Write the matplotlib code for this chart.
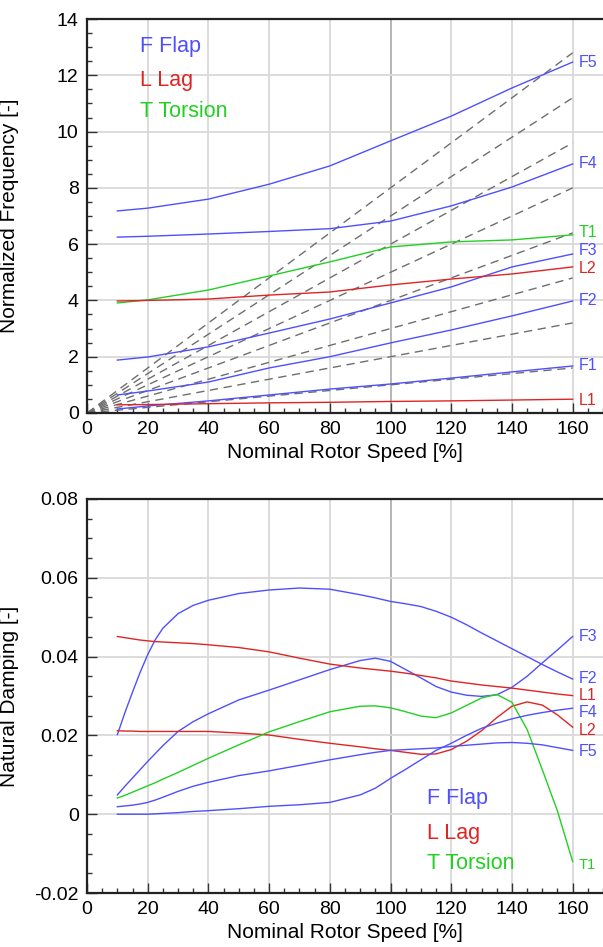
import matplotlib
matplotlib.use("Agg")
import matplotlib.pyplot as plt
from matplotlib.ticker import MultipleLocator, FixedLocator, FixedFormatter
import numpy as np

plt.rcParams['font.family'] = ['Liberation Sans', 'DejaVu Sans']
plt.rcParams['axes.unicode_minus'] = False

BLUE = '#4f4fff'
RED = '#e02424'
GREEN = '#22d022'

# --- frequency (top panel) ---
speedFreq = [10, 20, 40, 60, 80, 100, 120, 140, 160]
freqF5 = [7.18, 7.28, 7.60, 8.13, 8.78, 9.67, 10.55, 11.55, 12.47]
freqF4 = [6.25, 6.28, 6.36, 6.45, 6.55, 6.82, 7.36, 8.03, 8.85]
freqT1 = [3.91, 4.02, 4.37, 4.87, 5.37, 5.90, 6.08, 6.15, 6.33]
freqL2 = [3.98, 4.00, 4.05, 4.19, 4.30, 4.55, 4.76, 4.94, 5.19]
freqF3 = [1.88, 1.99, 2.35, 2.84, 3.34, 3.91, 4.48, 5.19, 5.65]
freqF2 = [0.64, 0.78, 1.10, 1.60, 2.00, 2.49, 2.95, 3.45, 3.98]
freqF1 = [0.14, 0.25, 0.43, 0.64, 0.85, 1.03, 1.24, 1.46, 1.67]
freqL1 = [0.29, 0.30, 0.33, 0.36, 0.38, 0.41, 0.43, 0.46, 0.49]

# rotor harmonics (per rev) drawn as dashed fan
harmonics = [1, 2, 3, 4, 5, 6, 7, 8]
harmonicSpeed = [0, 160]

# --- damping (bottom panel) ---
speedDamp = [10, 12.5, 15, 17.5, 20, 22.5, 25, 30, 35, 40, 50, 60, 70, 80,
             90, 95, 100, 105, 110, 115, 120, 125, 130, 135, 140, 145, 150,
             155, 160]
dampF2 = [0.0202, 0.0258, 0.0310, 0.0360, 0.0405, 0.0443, 0.0472, 0.0509,
          0.0530, 0.0543, 0.0560, 0.0569, 0.0574, 0.0571, 0.0557, 0.0549,
          0.0540, 0.0534, 0.0527, 0.0515, 0.0500, 0.0481, 0.0460, 0.0440,
          0.0420, 0.0400, 0.0380, 0.0361, 0.0343]
dampF3 = [0.0049, 0.0071, 0.0092, 0.0113, 0.0134, 0.0154, 0.0174, 0.0210,
          0.0235, 0.0255, 0.0290, 0.0315, 0.0341, 0.0367, 0.0390, 0.0396,
          0.0388, 0.0367, 0.0346, 0.0324, 0.0310, 0.0302, 0.0299, 0.0303,
          0.0322, 0.0350, 0.0384, 0.0417, 0.0451]
dampL1 = [0.0451, 0.0448, 0.0445, 0.0442, 0.0440, 0.0438, 0.0437, 0.0435,
          0.0433, 0.0430, 0.0423, 0.0412, 0.0396, 0.0381, 0.0371, 0.0367,
          0.0363, 0.0358, 0.0352, 0.0346, 0.0338, 0.0333, 0.0328, 0.0324,
          0.0320, 0.0315, 0.0310, 0.0305, 0.0301]
dampL2 = [0.0212, 0.0211, 0.0211, 0.0210, 0.0210, 0.0210, 0.0210, 0.0210,
          0.0210, 0.0210, 0.0206, 0.0201, 0.0190, 0.0180, 0.0171, 0.0166,
          0.0162, 0.0157, 0.0152, 0.0153, 0.0164, 0.0185, 0.0212, 0.0245,
          0.0274, 0.0285, 0.0277, 0.0252, 0.0221]
dampT1 = [0.0041, 0.0048, 0.0056, 0.0064, 0.0072, 0.0080, 0.0089, 0.0106,
          0.0124, 0.0142, 0.0176, 0.0209, 0.0235, 0.0260, 0.0274, 0.0275,
          0.0270, 0.0260, 0.0249, 0.0245, 0.0257, 0.0276, 0.0295, 0.0304,
          0.0284, 0.0215, 0.0113, 0.0008, -0.0120]
dampF4 = [0.0000, 0.0000, 0.0000, 0.0000, 0.0000, 0.0001, 0.0002, 0.0004,
          0.0007, 0.0009, 0.0014, 0.0020, 0.0024, 0.0030, 0.0049, 0.0066,
          0.0091, 0.0114, 0.0138, 0.0162, 0.0180, 0.0200, 0.0218, 0.0231,
          0.0242, 0.0251, 0.0258, 0.0264, 0.0269]
dampF5 = [0.0019, 0.0021, 0.0023, 0.0026, 0.0030, 0.0036, 0.0043, 0.0058,
          0.0071, 0.0081, 0.0098, 0.0110, 0.0124, 0.0138, 0.0151, 0.0157,
          0.0162, 0.0164, 0.0166, 0.0168, 0.0172, 0.0175, 0.0178, 0.0181,
          0.0182, 0.0180, 0.0176, 0.0169, 0.0162]

dampTicks = [-0.02, 0, 0.02, 0.04, 0.06, 0.08]
dampTickLabels = ['-0.02', '0', '0.02', '0.04', '0.06', '0.08']


def styleAxes(ax):
    ax.set_xlim(0, 170)
    ax.xaxis.set_major_locator(FixedLocator([0, 20, 40, 60, 80, 100, 120, 140, 160]))
    ax.xaxis.set_minor_locator(MultipleLocator(5))
    ax.tick_params(which='both', direction='in', top=False, right=False,
                   width=1.0, color='#333333')
    ax.tick_params(which='major', length=7, labelsize=14, pad=6)
    ax.tick_params(which='minor', length=3.5)
    ax.grid(True, which='major', color='#d9d9d9', lw=1.3, zorder=0)
    for line, tick in zip(ax.get_xgridlines(), ax.get_xticks()):
        if tick == 100:
            line.set_color('#b0b0b0')
    ax.spines['right'].set_visible(False)
    for side in ['left', 'bottom', 'top']:
        ax.spines[side].set_linewidth(1.6)
        ax.spines[side].set_color('#222222')
    ax.set_axisbelow(True)
    ax.set_xlabel('Nominal Rotor Speed [%]', fontsize=15)
    ax.xaxis.set_label_coords(0.5, -0.075)


fig = plt.figure(figsize=(6.03, 9.47), dpi=100)
axTop = fig.add_axes([0.1443, 0.5639, 0.8557, 0.4160])
axBot = fig.add_axes([0.1443, 0.0570, 0.8557, 0.4161])

# top panel
for k in harmonics:
    axTop.plot(harmonicSpeed, [k * s / 100 for s in harmonicSpeed],
               color='#6e6e6e', lw=1.0, dashes=(6, 4), zorder=2)

topCurves = [
    (freqF5, BLUE, 'F5'), (freqF4, BLUE, 'F4'), (freqT1, GREEN, 'T1'),
    (freqF3, BLUE, 'F3'), (freqL2, RED, 'L2'), (freqF2, BLUE, 'F2'),
    (freqF1, BLUE, 'F1'), (freqL1, RED, 'L1'),
]
topLabelY = {'F5': 12.47, 'F4': 8.85, 'T1': 6.43, 'F3': 5.76, 'L2': 5.12,
             'F2': 3.98, 'F1': 1.67, 'L1': 0.43}
for values, color, name in topCurves:
    axTop.plot(speedFreq, values, color=color, lw=1.0, zorder=3)
    axTop.text(162, topLabelY[name], name, color=color, fontsize=11.5,
               va='center', ha='left')

styleAxes(axTop)
axTop.set_ylim(0, 14)
axTop.yaxis.set_major_locator(MultipleLocator(2))
axTop.yaxis.set_minor_locator(MultipleLocator(0.5))
axTop.set_ylabel('Normalized Frequency [-]', fontsize=15)
axTop.yaxis.set_label_coords(-0.132, 0.5)

axTop.text(17.4, 13.04, 'F Flap', color=BLUE, fontsize=15.5, va='center')
axTop.text(17.4, 11.83, 'L Lag', color=RED, fontsize=15.5, va='center')
axTop.text(17.4, 10.70, 'T Torsion', color=GREEN, fontsize=15.5, va='center')

# bottom panel
botCurves = [
    (dampF2, BLUE, 'F2', 0.0345), (dampF3, BLUE, 'F3', 0.0452),
    (dampL1, RED, 'L1', 0.0302), (dampL2, RED, 'L2', 0.0212),
    (dampT1, GREEN, 'T1', -0.0130), (dampF4, BLUE, 'F4', 0.0257),
    (dampF5, BLUE, 'F5', 0.0158),
]
for values, color, name, labelY in botCurves:
    axBot.plot(speedDamp, values, color=color, lw=1.0, zorder=3)
    size = 10.5 if name == 'T1' else 11.5
    axBot.text(162, labelY, name, color=color, fontsize=size,
               va='center', ha='left')

styleAxes(axBot)
axBot.set_ylim(-0.02, 0.08)
axBot.yaxis.set_major_locator(FixedLocator(dampTicks))
axBot.yaxis.set_major_formatter(FixedFormatter(dampTickLabels))
axBot.yaxis.set_minor_locator(MultipleLocator(0.005))
axBot.set_ylabel('Natural Damping [-]', fontsize=15)
axBot.yaxis.set_label_coords(-0.132, 0.5)

axBot.text(112, 0.0041, 'F Flap', color=BLUE, fontsize=15.5, va='center')
axBot.text(112, -0.0048, 'L Lag', color=RED, fontsize=15.5, va='center')
axBot.text(112, -0.0124, 'T Torsion', color=GREEN, fontsize=15.5, va='center')

fig.savefig('out.png', dpi=100)
